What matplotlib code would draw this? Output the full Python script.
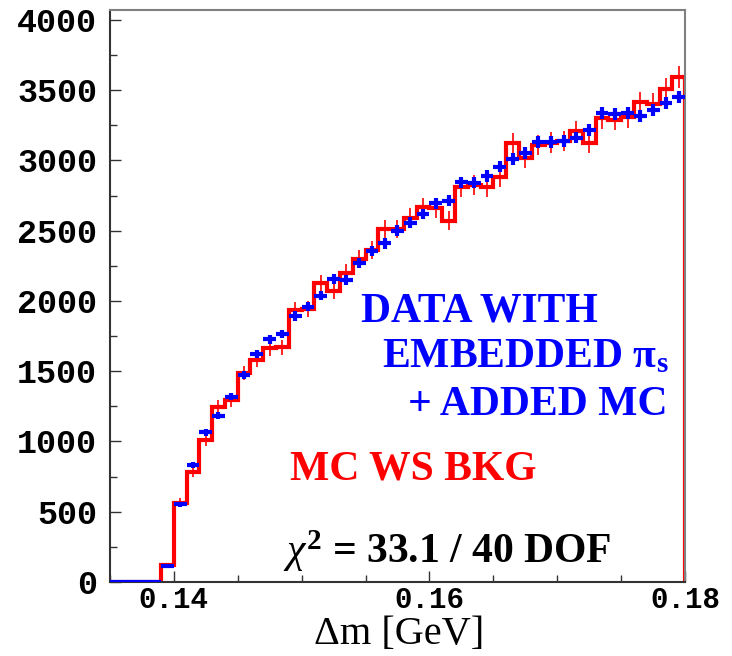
import numpy as np
import matplotlib
matplotlib.use("Agg")
import matplotlib.pyplot as plt
from matplotlib.ticker import MultipleLocator, FixedLocator

plt.rcParams["mathtext.fontset"] = "custom"
plt.rcParams["mathtext.rm"] = "Liberation Serif:bold"
plt.rcParams["mathtext.it"] = "Liberation Serif:italic"
plt.rcParams["mathtext.bf"] = "Liberation Serif:bold"

# ---- data ----
bin_edges = np.round(np.arange(0.135, 0.1805, 0.001), 4)
mc_ws_bkg = [0, 0, 0, 0,
             121, 564, 785, 1010, 1248, 1295, 1485, 1580, 1663, 1670,
             1936, 1941, 2126, 2073, 2201, 2300, 2363, 2514, 2514, 2593,
             2666, 2659, 2571, 2809, 2825, 2809, 2880, 3122, 3015, 3110,
             3127, 3139, 3208, 3127, 3300, 3288, 3307, 3414, 3402, 3507, 3597]
data_embedded = [0, 0, 0, 0,
                 114, 555, 832, 1065, 1184, 1319, 1473, 1623, 1727, 1765,
                 1893, 1960, 2038, 2156, 2149, 2268, 2358, 2410, 2500, 2557,
                 2619, 2695, 2712, 2845, 2842, 2889, 2956, 3010, 3051, 3134,
                 3134, 3139, 3163, 3217, 3335, 3328, 3340, 3317, 3359, 3411, 3450]
x_ticks = [0.14, 0.16, 0.18]
x_tick_labels = ["0.14", "0.16", "0.18"]
y_ticks = [0, 500, 1000, 1500, 2000, 2500, 3000, 3500, 4000]

red = np.array(mc_ws_bkg, dtype=float)
blue = np.array(data_embedded, dtype=float)
centers = 0.5 * (bin_edges[:-1] + bin_edges[1:])
halfw = 0.5 * (bin_edges[1:] - bin_edges[:-1])

fig = plt.figure(figsize=(7.32, 6.56), dpi=100)
ax = fig.add_axes([0.150, 0.1128, 0.786, 0.872])

RED = "#ff0000"
BLUE = "#0000ff"

ax.stairs(red, bin_edges, color=RED, linewidth=3.0, baseline=0, zorder=2)
nz = red > 0
ax.errorbar(centers[nz], red[nz], yerr=1.3 * np.sqrt(red[nz]), fmt="none",
            ecolor=RED, elinewidth=1.2, capsize=0, zorder=3)
ax.errorbar(centers, blue, xerr=halfw, yerr=0.75 * np.sqrt(blue), fmt="none",
            ecolor=BLUE, elinewidth=3.0, capsize=0, zorder=4)

ax.set_xlim(0.135, 0.18)
ax.set_ylim(0, 4071)

ax.xaxis.set_major_locator(FixedLocator(x_ticks))
ax.set_xticklabels(x_tick_labels)
ax.xaxis.set_minor_locator(MultipleLocator(0.005))
ax.yaxis.set_major_locator(FixedLocator(y_ticks))
ax.yaxis.set_minor_locator(MultipleLocator(250))

for lab in ax.get_xticklabels():
    lab.set_fontfamily("Liberation Mono")
    lab.set_fontweight("bold")
    lab.set_fontsize(21)
for lab in ax.get_yticklabels():
    lab.set_fontfamily("Liberation Mono")
    lab.set_fontweight("bold")
    lab.set_fontsize(24)

ax.tick_params(which="both", direction="in", top=False, right=False,
               color="#333333", width=1.0)
ax.tick_params(which="major", length=8)
ax.tick_params(which="minor", length=5)
ax.tick_params(axis="x", pad=3)
ax.tick_params(axis="y", pad=9)

for side in ["left", "bottom"]:
    ax.spines[side].set_color("#333333")
    ax.spines[side].set_linewidth(1.5)
for side in ["top", "right"]:
    ax.spines[side].set_color("#808080")
    ax.spines[side].set_linewidth(1.5)

fig.text(0.545, 0.004, "Δm [GeV]", family="Liberation Serif", fontsize=29,
         ha="center", va="bottom")

serif_bold = dict(family="Liberation Serif", weight="bold", fontsize=30)
ax.text(0.849, 0.473, "DATA WITH", color=BLUE, ha="right", va="center",
        transform=ax.transAxes, **serif_bold)
ax.text(0.972, 0.392, r"EMBEDDED $\mathbf{\pi}_\mathbf{s}$", color=BLUE, ha="right",
        va="center", transform=ax.transAxes, **serif_bold)
ax.text(0.970, 0.310, "+ ADDED MC", color=BLUE, ha="right", va="center",
        transform=ax.transAxes, **serif_bold)
ax.text(0.313, 0.196, "MC WS BKG", color=RED, ha="left", va="center",
        transform=ax.transAxes, **serif_bold)
ax.text(0.301, 0.054, r"$\mathit{\chi}^\mathbf{2}$ = 33.1 / 40 DOF", color="black",
        ha="left", va="center", transform=ax.transAxes, **serif_bold)

fig.savefig("out.png", dpi=100)
